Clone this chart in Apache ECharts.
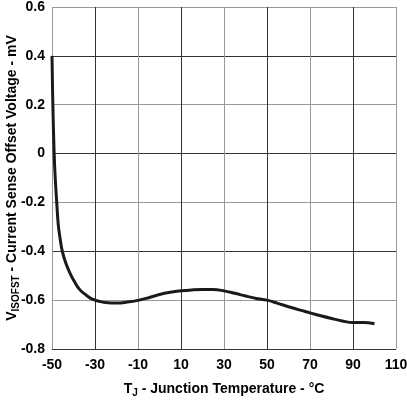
<!DOCTYPE html>
<html>
<head>
<meta charset="utf-8">
<script src="https://cdn.jsdelivr.net/npm/echarts@6/dist/echarts.min.js"></script>
<style>
  html, body { margin: 0; padding: 0; background: #fff; }
  #main { width: 407px; height: 400px; }
</style>
</head>
<body>
<div id="main"></div>
<script>
// junction temperature (°C) and offset voltage (mV)
var temps = [-50, -49.6, -49.0, -48.5, -47.8, -47.1, -46.2, -45.2, -43.5, -41.6, -39.5, -37, -34, -31.5, -28, -24, -20, -15, -10, -5,
  0, 5, 10, 15, 20, 25, 30, 35, 40, 45, 50, 55, 60, 65, 70, 75, 80, 85, 90, 95, 100];
var offset = [0.4, 0.2, 0, -0.1, -0.2, -0.29, -0.35, -0.4, -0.45, -0.49, -0.525, -0.558, -0.58, -0.595, -0.605, -0.611, -0.612, -0.608, -0.601, -0.59,
  -0.577, -0.568, -0.562, -0.558, -0.556, -0.556, -0.562, -0.572, -0.583, -0.593, -0.6, -0.613, -0.627, -0.64, -0.652, -0.664, -0.675, -0.685, -0.692, -0.692, -0.697];

var xMin = -50, xMax = 110, xStep = 20;
var yMin = -0.8, yMax = 0.6, yStep = 0.2;

var font = 'Liberation Sans, Arial, sans-serif';

var nameRich = {
  n: { fontFamily: font, fontWeight: 'bold', fontSize: 14, fill: '#000', color: '#000', lineHeight: 18, verticalAlign: 'middle' },
  s: { fontFamily: font, fontWeight: 'bold', fontSize: 10, fill: '#000', color: '#000', lineHeight: 18, verticalAlign: 'bottom', padding: [6, 0, 0, 0] }
};

var chart = echarts.init(document.getElementById('main'));

chart.setOption({
  animation: false,
  backgroundColor: '#fff',
  grid: {
    left: 52,
    right: 11,
    top: 7,
    bottom: 51,
    containLabel: false,
    outerBoundsMode: 'none'
  },
  // y axis title drawn as rotated text so it sits left of the tick labels
  graphic: [
    {
      type: 'text',
      x: 12,
      y: 178,
      rotation: Math.PI / 2,
      style: {
        text: '{n|V}{s|ISOFST}{n| - Current Sense Offset Voltage - mV}',
        rich: nameRich,
        align: 'center',
        verticalAlign: 'middle'
      }
    }
  ],
  xAxis: {
    type: 'value',
    min: xMin,
    max: xMax,
    interval: xStep,
    axisLine: { show: false },
    axisTick: { show: false },
    axisLabel: {
      color: '#000',
      fontFamily: font,
      fontWeight: 'bold',
      fontSize: 14,
      margin: 9
    },
    splitLine: {
      show: true,
      showMinLine: true,
      showMaxLine: true,
      lineStyle: { color: ['#999', '#333'], width: 1 }
    },
    name: '{n|T}{s|J}{n| - Junction Temperature - °C}',
    nameLocation: 'middle',
    nameGap: 31,
    nameTextStyle: { rich: nameRich }
  },
  yAxis: {
    type: 'value',
    min: yMin,
    max: yMax,
    interval: yStep,
    axisLine: { show: false },
    axisTick: { show: false },
    axisLabel: {
      color: '#000',
      fontFamily: font,
      fontWeight: 'bold',
      fontSize: 14,
      margin: 7,
      formatter: function (v) { return String(+v.toFixed(1)); }
    },
    splitLine: {
      show: true,
      showMinLine: true,
      showMaxLine: true,
      lineStyle: { color: ['#333', '#999'], width: 1 }
    }
  },
  series: [
    {
      type: 'line',
      data: temps.map(function (t, i) { return [t, offset[i]]; }),
      smooth: 0.4,
      showSymbol: false,
      lineStyle: { color: '#1a1a1a', width: 3 }
    }
  ]
});
</script>
</body>
</html>
